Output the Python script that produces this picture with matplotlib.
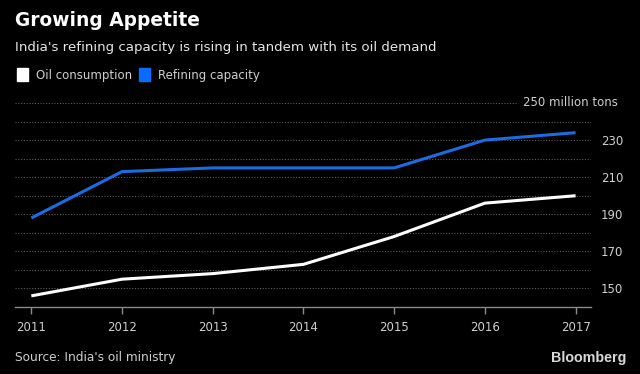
import matplotlib.pyplot as plt
from matplotlib.patches import Rectangle

years = [2011, 2012, 2013, 2014, 2015, 2016, 2017]
oil_consumption = [146, 155, 158, 163, 178, 196, 200]
refining_capacity = [188, 213, 215, 215, 215, 230, 234]
y_ticks = [150, 170, 190, 210, 230]

plt.rcParams['font.family'] = ['DejaVu Sans']

BG = '#000000'
BLUE = '#1a6ce0'
GRID = '#5e5e5e'
TXT = '#cfcfcf'

W, H = 640, 374
fig = plt.figure(figsize=(6.4, 3.74), dpi=100, facecolor=BG)
ax = fig.add_axes([15 / W, 1 - 307 / H, 576 / W, 204 / H], facecolor=BG)

ax.plot(years, refining_capacity, color=BLUE, lw=2.2, solid_capstyle='butt', zorder=3)
ax.plot(years, oil_consumption, color='white', lw=2.2, solid_capstyle='butt', zorder=3)

ax.set_xlim(2010.82, 2017.17)
ax.set_ylim(140, 250)

# dotted gridlines
for v in range(150, 250, 10):
    ax.axhline(v, color=GRID, lw=0.8, ls=(0, (1, 1.5)), zorder=1)
ax.plot([2010.82, 2016.36], [250, 250], color=GRID, lw=0.8, ls=(0, (1, 1.5)), zorder=1)

for s in ['top', 'left', 'right']:
    ax.spines[s].set_visible(False)
ax.spines['bottom'].set_color('#8a8a8a')
ax.spines['bottom'].set_linewidth(1.0)

ax.set_xticks(years)
ax.set_xticklabels([str(y) for y in years], color=TXT, fontsize=8.5)
ax.tick_params(axis='x', colors='#8a8a8a', length=5, width=1, pad=5, labelcolor=TXT)

ax.yaxis.tick_right()
ax.set_yticks(y_ticks)
ax.set_yticklabels([str(v) for v in y_ticks], color=TXT, fontsize=8.5)
ax.tick_params(axis='y', length=0, pad=7)
fig.text(618 / W, 1 - 103 / H, '250 million tons', ha='right', va='center',
         color=TXT, fontsize=8.5)

# titles
fig.text(15 / W, 1 - 21 / H, 'Growing Appetite', color='white', fontsize=13.4,
         fontweight='bold', ha='left', va='center')
fig.text(15 / W, 1 - 48 / H, "India's refining capacity is rising in tandem with its oil demand",
         color='#e6e6e6', fontsize=9.6, ha='left', va='center')

# legend
fig.patches.append(Rectangle((17 / W, 1 - 81 / H), 11 / W, 13 / H,
                             transform=fig.transFigure, color='white'))
fig.text(36 / W, 1 - 75 / H, 'Oil consumption', color=TXT, fontsize=8.5,
         ha='left', va='center')
fig.patches.append(Rectangle((139 / W, 1 - 81 / H), 11 / W, 13 / H,
                             transform=fig.transFigure, color='#0a6cff'))
fig.text(158 / W, 1 - 75 / H, 'Refining capacity', color=TXT, fontsize=8.5,
         ha='left', va='center')

# footer
fig.text(15 / W, 1 - 357 / H, "Source: India's oil ministry", color=TXT, fontsize=8.7,
         ha='left', va='center')
fig.text(626 / W, 1 - 358 / H, 'Bloomberg', color='#d8d8d8', fontsize=10.3,
         fontweight='bold', ha='right', va='center', family=['Liberation Sans', 'DejaVu Sans'])

fig.savefig('out.png', dpi=100, facecolor=BG)
